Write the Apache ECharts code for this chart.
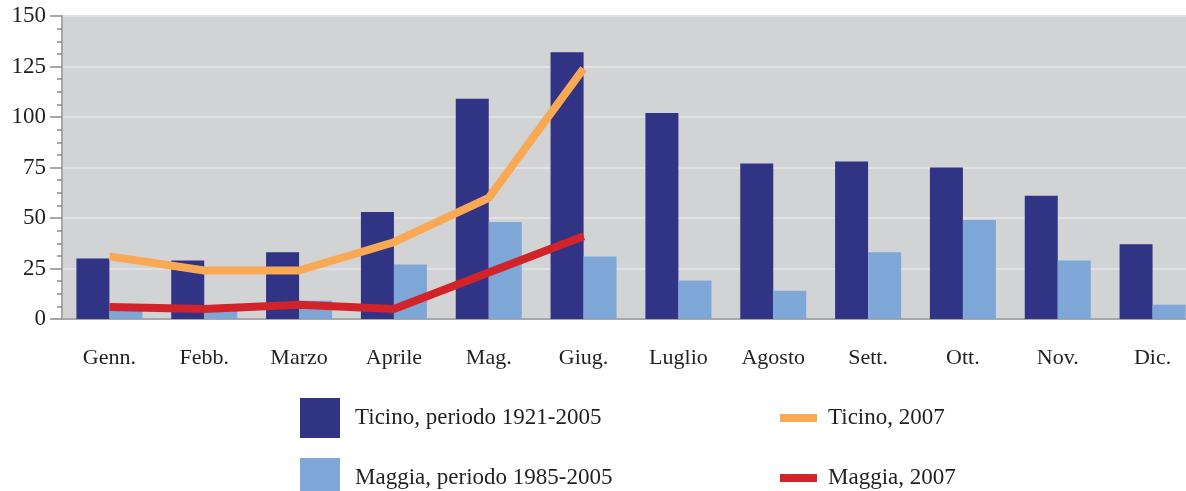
<!DOCTYPE html>
<html>
<head>
<meta charset="utf-8">
<script src="https://cdn.jsdelivr.net/npm/echarts@6/dist/echarts.min.js"></script>
<style>
  html,body{margin:0;padding:0;background:#fff;overflow:hidden;}
  #chart{width:1200px;height:491px;}
</style>
</head>
<body>
<div id="chart"></div>
<script>
var mesi = ['Genn.','Febb.','Marzo','Aprile','Mag.','Giug.','Luglio','Agosto','Sett.','Ott.','Nov.','Dic.']
var ticinoMedia = [30, 29, 33, 53, 109, 132, 102, 77, 78, 75, 61, 37]
var maggiaMedia = [4, 4, 9, 27, 48, 31, 19, 14, 33, 49, 29, 7]
var ticino2007 = [31, 24, 24, 38, 60, 124, null, null, null, null, null, null]
var maggia2007 = [6, 5, 7, 5, 23, 41, null, null, null, null, null, null]

var serif = '"Liberation Serif", "DejaVu Serif", serif'
var chart = echarts.init(document.getElementById('chart'))
var option = {
  animation: false,
  textStyle: {fontFamily: serif, color: '#231f20'},
  grid: {
    left: 62, width: 1138, top: 16, height: 303,
    show: true, backgroundColor: '#d2d3d5', borderWidth: 0
  },
  legend: [{
    left: 295, top: 393, height: 200, orient: 'vertical',
    itemWidth: 40, itemHeight: 40, itemGap: 20,
    icon: 'rect',
    textStyle: {fontFamily: serif, fontSize: 23, color: '#231f20', padding: [12, 0, 0, 10]},
    data: ['Ticino, periodo 1921-2005', 'Maggia, periodo 1985-2005']
  }, {
    left: 775, top: 393, height: 200, orient: 'vertical',
    itemWidth: 37, itemHeight: 8, itemGap: 20,
    icon: 'rect',
    textStyle: {fontFamily: serif, fontSize: 23, color: '#231f20', lineHeight: 34, padding: [6, 0, 0, 6]},
    data: ['Ticino, 2007', 'Maggia, 2007']
  }],
  xAxis: {
    type: 'category',
    data: mesi,
    axisLine: {lineStyle: {color: '#a7a8aa', width: 2}},
    axisTick: {length: 13, lineStyle: {color: '#b8b9bb', width: 2}},
    axisLabel: {fontFamily: serif, fontSize: 22, color: '#231f20', margin: 28}
  },
  yAxis: {
    type: 'value',
    min: 0, max: 150, interval: 25,
    axisLine: {show: true, lineStyle: {color: '#a7a8aa', width: 2}},
    axisTick: {show: true, length: 12, lineStyle: {color: '#8a8b8d', width: 1.5}},
    minorTick: {show: true, splitNumber: 4, length: 5, lineStyle: {color: '#8a8b8d', width: 1.5}},
    splitLine: {lineStyle: {color: '#e0e1e3', width: 2}},
    axisLabel: {fontFamily: serif, fontSize: 23, color: '#231f20', margin: 16, padding: [4, 0, 0, 0]}
  },
  series: [{
    name: 'Ticino, periodo 1921-2005',
    type: 'bar',
    data: ticinoMedia,
    barWidth: 33,
    barGap: '0%',
    itemStyle: {color: '#313385'}
  }, {
    name: 'Maggia, periodo 1985-2005',
    type: 'bar',
    data: maggiaMedia,
    barWidth: 33,
    barGap: '0%',
    itemStyle: {color: '#7ea7d8'}
  }, {
    name: 'Ticino, 2007',
    type: 'line',
    data: ticino2007,
    symbol: 'none',
    itemStyle: {color: '#f9a953'},
    lineStyle: {color: '#f9a953', width: 8}
  }, {
    name: 'Maggia, 2007',
    type: 'line',
    data: maggia2007,
    symbol: 'none',
    itemStyle: {color: '#d2232a'},
    lineStyle: {color: '#d2232a', width: 8}
  }]
}
chart.setOption(option)
</script>
</body>
</html>
